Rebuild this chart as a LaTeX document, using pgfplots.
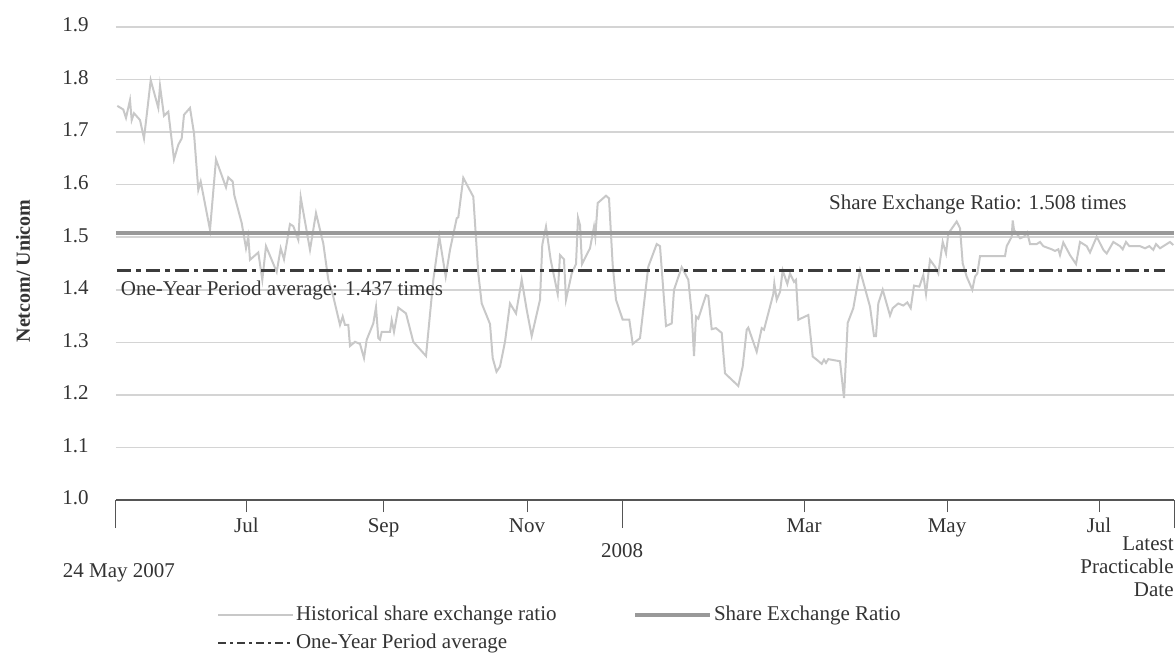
\documentclass[border=0pt]{standalone}
\usepackage{pgfplots}
\pgfplotsset{compat=1.18}
\usepackage{fontspec}
\setmainfont{Liberation Serif}
\definecolor{histc}{HTML}{C8C8C8}
\definecolor{serc}{HTML}{999999}
\definecolor{avgc}{HTML}{3C3C3C}
\definecolor{gridc}{HTML}{D4D4D4}
\definecolor{axc}{HTML}{555555}
\definecolor{txtc}{HTML}{333333}
\begin{document}
\begin{tikzpicture}[font=\fontsize{10.5}{12.6}\selectfont]
\begin{axis}[
  scale only axis, width=529pt, height=236.5pt,
  xmin=116, xmax=1174, ymin=1.0, ymax=1.9,
  clip=false,
  axis line style={draw=none},
  font=\fontsize{10.5}{12.6}\selectfont,
  ytick={1.0,1.1,1.2,1.3,1.4,1.5,1.6,1.7,1.8,1.9},
  ymajorgrids, grid style={gridc, line width=0.75pt},
  ytick style={draw=none},
  yticklabel style={anchor=east, inner sep=0pt, xshift=-7.5pt, yshift=1pt, text=txtc},
  /pgf/number format/assume math mode=true,
  /pgf/number format/.cd, fixed, fixed zerofill, precision=1, /pgfplots/.cd,
  xtick={246.5,383.5,527,804,947,1099},
  xticklabels={Jul,Sep,Nov,Mar,May,Jul},
  xtick pos=left, tick align=outside,
  major tick length=6pt,
  xtick style={axc, line width=0.5pt},
  xticklabel style={anchor=base, inner sep=0pt, yshift=-10pt, text=txtc},
  extra x ticks={116,622,1174},
  extra x tick labels={},
  extra x tick style={major tick length=14pt, xtick style={axc, line width=0.5pt}},
  legend columns=2,
  legend cell align=left,
  legend style={draw=none, fill=none, at={(rel axis cs:0,0)}, anchor=north west,
    xshift=47.3pt, yshift=-51pt, font=\fontsize{10.5}{12.6}\selectfont,
    nodes={inner sep=0pt, text=txtc}, row sep=5pt,
    /tikz/every odd column/.append style={column sep=1pt},
    /tikz/every even column/.append style={column sep=38.45pt}},
  legend image code/.code={\draw[#1] (0pt,0pt) -- (37.5pt,0pt);},
]
\draw[axc, line width=0.6pt] (axis cs:116,1.0) -- (axis cs:1174,1.0);
\addplot[histc, line width=1pt, forget plot] coordinates {
(117.3,1.750) (123.3,1.743) (126,1.727) (130,1.761) (131.7,1.723) (134,1.736)
(140,1.723) (144,1.688) (147.3,1.742) (150.7,1.799) (158.3,1.746) (160,1.788)
(164,1.731) (168.3,1.739) (174,1.648) (178.3,1.676) (181.7,1.688) (184,1.733)
(190,1.746) (194,1.698) (198.3,1.590) (200.7,1.606) (210,1.514) (216,1.648)
(226,1.595) (228.3,1.614) (232.7,1.606) (234.3,1.580) (241.7,1.527) (246,1.479)
(248.3,1.501) (250,1.457) (258.3,1.471) (262.3,1.419) (266,1.483) (276.7,1.434)
(280.7,1.479) (284,1.458) (290,1.525) (293.3,1.521) (298.3,1.495) (300.7,1.576)
(310,1.476) (316,1.546) (323.3,1.488) (328.3,1.419) (333.3,1.387) (340,1.333)
(342.7,1.349) (345,1.333) (348.3,1.333) (350,1.293) (355,1.301) (360,1.297)
(364,1.270) (366.7,1.305) (373.3,1.336) (376,1.367) (378.3,1.308) (380,1.305)
(381.7,1.320) (390,1.320) (391.7,1.342) (394,1.320) (398.3,1.366) (406,1.355)
(413.3,1.301) (426,1.274) (433.3,1.419) (439.3,1.501) (445.7,1.425) (450,1.476)
(456.7,1.536) (458.3,1.538) (463.3,1.613) (473.3,1.577) (478.3,1.431) (481.7,1.374)
(490,1.335) (492.7,1.270) (496.5,1.244) (500,1.254) (505,1.301) (510,1.374)
(516,1.355) (521.7,1.419) (526.7,1.362) (531.7,1.312) (540,1.381) (542.3,1.486)
(546,1.520) (550.7,1.457) (557.7,1.392) (560,1.466) (564,1.458) (566,1.381)
(571.7,1.431) (576,1.449) (578,1.537) (580,1.523) (582,1.449) (590,1.479)
(594,1.520) (595.3,1.501) (597.7,1.565) (606,1.579) (609,1.574) (612.7,1.447)
(616,1.381) (622.7,1.343) (629.3,1.343) (632.7,1.297) (640,1.308) (648.3,1.444)
(656.7,1.487) (660,1.483) (666,1.331) (671.7,1.336) (674,1.400) (681.7,1.443)
(688.3,1.419) (691.7,1.355) (694,1.274) (696,1.349) (698.3,1.345) (706,1.390)
(708.3,1.388) (711.7,1.325) (716,1.327) (721.7,1.318) (725,1.241) (738.3,1.217)
(742.7,1.254) (746.7,1.324) (748.3,1.328) (756.7,1.282) (761.7,1.327) (764,1.324)
(773.3,1.392) (774.3,1.412) (776.7,1.381) (780,1.396) (782.7,1.437) (787.3,1.411)
(790,1.431) (794,1.415) (796,1.419) (798.3,1.343) (808.3,1.352) (812.7,1.273)
(816.7,1.267) (821.7,1.259) (824,1.267) (826,1.261) (828.3,1.268) (840,1.264)
(844,1.194) (847.7,1.337) (853.3,1.365) (860,1.437) (870,1.368) (874,1.312)
(876,1.312) (878.3,1.374) (882.7,1.400) (890,1.351) (892.7,1.365) (898.3,1.374)
(903.3,1.370) (907.3,1.376) (910.7,1.365) (914,1.408) (919.3,1.406) (923.3,1.428)
(926,1.392) (930,1.457) (935,1.444) (938.3,1.431) (942.7,1.491) (946,1.469)
(948.3,1.507) (956.7,1.530) (960,1.517) (962.7,1.450) (966.7,1.425) (972.3,1.400)
(975,1.425) (977.3,1.431) (980,1.464) (1005,1.464) (1006.7,1.483) (1011.7,1.501)
(1012.7,1.532) (1014,1.514) (1020,1.498) (1024,1.501) (1027.3,1.509) (1030,1.487)
(1036.7,1.487) (1040,1.491) (1043.3,1.483) (1051.7,1.477) (1055,1.474) (1058.3,1.477)
(1060,1.466) (1063.3,1.490) (1070,1.466) (1076,1.449) (1080,1.491) (1086.7,1.483)
(1090,1.471) (1096.7,1.501) (1103.3,1.476) (1106.7,1.469) (1113.3,1.491) (1120,1.483)
(1122.7,1.477) (1126,1.491) (1129.3,1.483) (1140,1.483) (1145,1.479) (1149.3,1.483)
(1153.3,1.476) (1156,1.487) (1160,1.479) (1170,1.491) (1173.3,1.485)
};
\addplot[serc, line width=1.75pt, forget plot] coordinates {(116,1.508) (1174,1.508)};
\addplot[avgc, line width=1.35pt, dash pattern=on 7.2pt off 2.5pt on 2.2pt off 2.5pt, forget plot] coordinates {(117,1.437) (1165,1.437)};
\addlegendimage{histc, line width=1pt}
\addlegendentry{Historical share exchange ratio}
\addlegendimage{serc, line width=1.75pt}
\addlegendentry{Share Exchange Ratio}
\addlegendimage{avgc, line width=0.8pt, dash pattern=on 4pt off 2pt on 1.5pt off 2pt}
\addlegendentry{One-Year Period average}
\node[anchor=base east, inner sep=0pt, text=txtc] at (axis cs:1127,1.552) {Share Exchange Ratio: 1.508 times};
\node[anchor=base west, inner sep=0pt, text=txtc] at (axis cs:120.5,1.390) {One-Year Period average: 1.437 times};
\node[anchor=base, inner sep=0pt, text=txtc] at ([yshift=-38.5pt]axis cs:119,1.0) {24 May 2007};
\node[anchor=base, inner sep=0pt, text=txtc] at ([yshift=-28.75pt]axis cs:622,1.0) {2008};
\node[anchor=base east, inner sep=0pt, text=txtc] at ([yshift=-25pt]axis cs:1174,1.0) {Latest};
\node[anchor=base east, inner sep=0pt, text=txtc] at ([yshift=-36.5pt]axis cs:1174,1.0) {Practicable};
\node[anchor=base east, inner sep=0pt, text=txtc] at ([yshift=-48pt]axis cs:1174,1.0) {Date};
\node[rotate=90, inner sep=0pt, text=txtc, font=\bfseries\fontsize{10}{12}\selectfont] at ([xshift=-46.5pt]axis cs:116,1.4357) {Netcom/ Unicom};
\end{axis}
\pgfresetboundingbox
\path[use as bounding box] (-58pt,-76.5pt) rectangle (530pt,250pt);
\end{tikzpicture}
\end{document}
